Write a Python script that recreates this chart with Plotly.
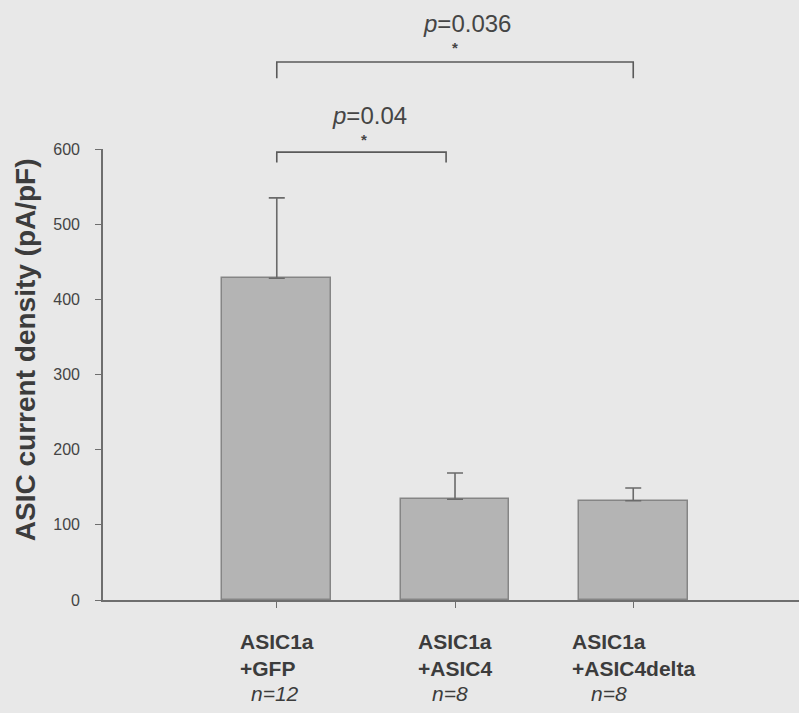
import plotly.graph_objects as go

categories = [["ASIC1a", "+GFP"], ["ASIC1a", "+ASIC4"], ["ASIC1a", "+ASIC4delta"]]
n_labels = ["n=12", "n=8", "n=8"]
means = [428, 134, 132]
sem = [107, 35, 17]
y_ticks = [0, 100, 200, 300, 400, 500, 600]

x_pos = list(range(len(categories)))

BG = "#e8e8e8"
TXT = "#3c3c3c"
AX = "#6e6e6e"
FONT = "Liberation Sans, Arial"

fig = go.Figure()
fig.add_trace(go.Bar(
    x=x_pos, y=means, width=0.61,
    marker=dict(color="#b4b4b4", line=dict(color="#858585", width=1.5)),
    error_y=dict(type="data", symmetric=False, array=sem, arrayminus=[0] * len(sem),
                 color="#6a6a6a", thickness=1.6, width=8),
    showlegend=False, hoverinfo="skip",
))

annotations = []
n_shift = [-2, -5, -24]
for i, (lines, n) in enumerate(zip(categories, n_labels)):
    annotations.append(dict(x=x_pos[i], y=0, xref="x", yref="paper", xanchor="center", yanchor="top",
                            yshift=-28,
                            text="<b>" + lines[0] + "</b><br><b>" + lines[1] + "</b>",
                            showarrow=False, align="left",
                            font=dict(size=21, color=TXT, family=FONT)))
    annotations.append(dict(x=x_pos[i], y=0, xref="x", yref="paper", xanchor="center", yanchor="middle",
                            yshift=-93, xshift=n_shift[i],
                            text="<i>" + n + "</i>", showarrow=False,
                            font=dict(size=21, color=TXT, family=FONT)))

plot_w = 799 - 103 - 0
annotations.append(dict(x=(25 - 103) / plot_w, xref="paper", xanchor="center", y=0.554, yref="paper",
                        yanchor="middle",
                        text="<b>ASIC current density (pA/pF)</b>", textangle=-90, showarrow=False,
                        font=dict(size=28, color=TXT, family=FONT)))

sig = [
    dict(x0=0, x1=0.95, ytop=0.993, ybot=0.970, ptext="<i>p</i>=0.04", px=0.52, py=1.075, sx=0.49, sy=1.021),
    dict(x0=0, x1=2, ytop=1.193, ybot=1.157, ptext="<i>p</i>=0.036", px=1.07, py=1.279, sx=1.0, sy=1.224),
]
shapes = []
for s in sig:
    shapes.append(dict(type="path", xref="x", yref="paper",
                       path=f"M {s['x0']},{s['ybot']} L {s['x0']},{s['ytop']} L {s['x1']},{s['ytop']} L {s['x1']},{s['ybot']}",
                       line=dict(color="#5a5a5a", width=1.6)))
    annotations.append(dict(x=s["px"], y=s["py"], xref="x", yref="paper", xanchor="center", yanchor="middle",
                            text=s["ptext"], showarrow=False,
                            font=dict(size=24, color="#454545", family=FONT)))
    annotations.append(dict(x=s["sx"], y=s["sy"], xref="x", yref="paper", xanchor="center", yanchor="middle",
                            text="<b>*</b>", showarrow=False,
                            font=dict(size=15, color="#454545", family=FONT)))

fig.update_layout(
    width=799, height=713,
    margin=dict(l=103, r=0, t=149, b=113),
    paper_bgcolor=BG, plot_bgcolor=BG,
    bargap=0,
    hovermode=False,
    xaxis=dict(range=[-0.975, 2.93], tickvals=x_pos, ticktext=[""] * 3, ticks="outside", ticklen=6,
               tickcolor=AX, tickwidth=1.3, showline=True, linecolor=AX, linewidth=1.6,
               showgrid=False, zeroline=False, fixedrange=True),
    yaxis=dict(range=[0, 600], tickvals=y_ticks, ticks="outside", ticklen=6, tickcolor=AX,
               tickwidth=1.3, showline=True, linecolor=AX, linewidth=1.6, showgrid=False,
               zeroline=False, ticklabelstandoff=12, fixedrange=True,
               tickfont=dict(size=16, color="#444444", family=FONT)),
    annotations=annotations,
    shapes=shapes,
)

fig.write_html("out.html", config={"displayModeBar": False},
               post_script="document.body.style.margin='0';document.body.style.background='#e8e8e8';document.body.style.overflow='hidden';")
